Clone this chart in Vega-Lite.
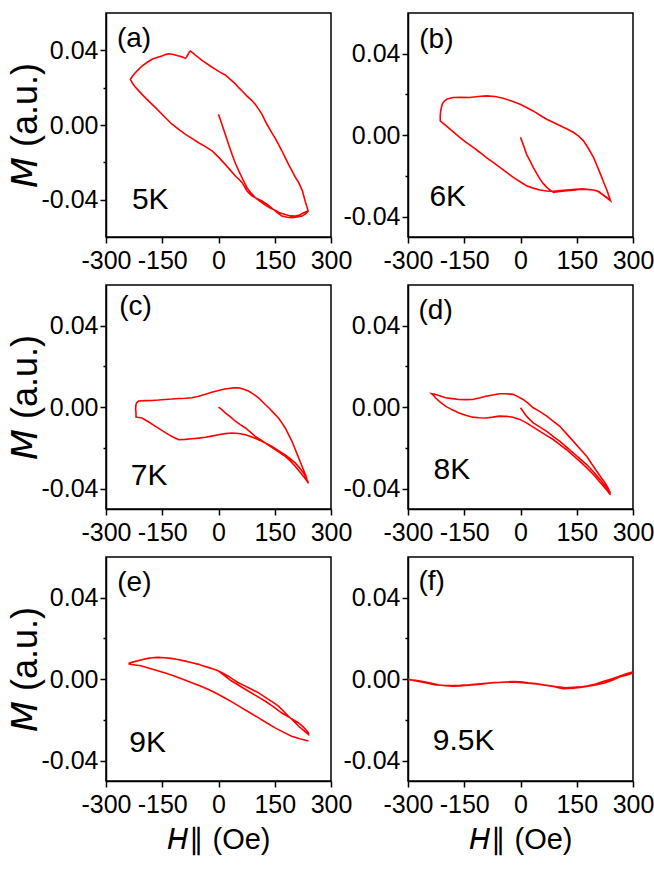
{
  "$schema": "https://vega.github.io/schema/vega-lite/v6.json",
  "padding": {"left": 6, "top": 12, "right": 5, "bottom": 5},
  "background": "white",
  "config": {
    "view": {"stroke": "black", "strokeWidth": 1.5},
    "font": "Liberation Sans",
    "axis": {
      "domainColor": "black", "domainWidth": 1.5,
      "tickColor": "black", "tickWidth": 1.5,
      "labelColor": "black", "labelFont": "Liberation Sans", "labelFontSize": 25,
      "titleFont": "Liberation Sans", "titleFontWeight": "normal", "titleColor": "black",
      "grid": false, "labelOverlap": false, "labelFlush": false, "labelBound": false
    },
    "axisX": {"labelPadding": 5, "titlePadding": 8, "titleFontSize": 29},
    "axisY": {"labelPadding": 2, "titlePadding": -3, "titleFontSize": 36},
    "text": {"font": "Liberation Sans", "color": "black"}
  },
  "datasets": {
    "labels": [
      {"p": "a", "tag": "(a)", "temp": "5K"},
      {"p": "b", "tag": "(b)", "temp": "6K"},
      {"p": "c", "tag": "(c)", "temp": "7K"},
      {"p": "d", "tag": "(d)", "temp": "8K"},
      {"p": "e", "tag": "(e)", "temp": "9K"},
      {"p": "f", "tag": "(f)", "temp": "9.5K"}
    ],
    "loops": [
      {"p":"a","H":0,"M":0.0057},{"p":"a","H":9,"M":0.0004},{"p":"a","H":18,"M":-0.005},{"p":"a","H":27,"M":-0.0105},{"p":"a","H":36,"M":-0.0157},{"p":"a","H":45,"M":-0.0205},{"p":"a","H":54,"M":-0.0246},{"p":"a","H":65,"M":-0.0292},{"p":"a","H":76,"M":-0.0336},{"p":"a","H":87,"M":-0.0365},{"p":"a","H":98,"M":-0.0389},{"p":"a","H":112,"M":-0.041},{"p":"a","H":125,"M":-0.0429},{"p":"a","H":138,"M":-0.0445},{"p":"a","H":151,"M":-0.0457},{"p":"a","H":165,"M":-0.0472},{"p":"a","H":178,"M":-0.0479},{"p":"a","H":192,"M":-0.0487},{"p":"a","H":205,"M":-0.0488},{"p":"a","H":216,"M":-0.0482},{"p":"a","H":227,"M":-0.047},{"p":"a","H":239,"M":-0.0461},
      {"p":"a","H":236,"M":-0.044},{"p":"a","H":231,"M":-0.0407},{"p":"a","H":226,"M":-0.037},{"p":"a","H":224,"M":-0.0354},{"p":"a","H":214,"M":-0.0309},{"p":"a","H":205,"M":-0.028},{"p":"a","H":196,"M":-0.0246},{"p":"a","H":187,"M":-0.0212},{"p":"a","H":178,"M":-0.0175},{"p":"a","H":169,"M":-0.0138},{"p":"a","H":160,"M":-0.0104},{"p":"a","H":151,"M":-0.007},{"p":"a","H":142,"M":-0.0041},{"p":"a","H":129,"M":0.0004},{"p":"a","H":116,"M":0.0057},{"p":"a","H":107,"M":0.0085},{"p":"a","H":98,"M":0.0111},{"p":"a","H":87,"M":0.0135},{"p":"a","H":76,"M":0.0155},{"p":"a","H":65,"M":0.0178},{"p":"a","H":54,"M":0.02},{"p":"a","H":45,"M":0.022},{"p":"a","H":36,"M":0.0236},{"p":"a","H":27,"M":0.0252},{"p":"a","H":18,"M":0.0268},{"p":"a","H":5,"M":0.0282},{"p":"a","H":-8,"M":0.0298},{"p":"a","H":-22,"M":0.0316},{"p":"a","H":-35,"M":0.0334},{"p":"a","H":-45,"M":0.0348},{"p":"a","H":-53,"M":0.0361},{"p":"a","H":-60,"M":0.0371},{"p":"a","H":-66,"M":0.0382},{"p":"a","H":-71,"M":0.039},{"p":"a","H":-75,"M":0.0396},{"p":"a","H":-78,"M":0.039},{"p":"a","H":-81,"M":0.0379},{"p":"a","H":-85,"M":0.0365},{"p":"a","H":-88,"M":0.0357},{"p":"a","H":-97,"M":0.0365},{"p":"a","H":-106,"M":0.037},{"p":"a","H":-120,"M":0.0378},{"p":"a","H":-133,"M":0.0382},{"p":"a","H":-142,"M":0.0377},{"p":"a","H":-151,"M":0.037},{"p":"a","H":-164,"M":0.0362},{"p":"a","H":-177,"M":0.0352},{"p":"a","H":-190,"M":0.0336},{"p":"a","H":-204,"M":0.0316},{"p":"a","H":-213,"M":0.0298},{"p":"a","H":-222,"M":0.028},{"p":"a","H":-229,"M":0.0262},{"p":"a","H":-235,"M":0.0245},
      {"p":"a","H":-229,"M":0.0222},{"p":"a","H":-222,"M":0.0204},{"p":"a","H":-213,"M":0.0184},{"p":"a","H":-204,"M":0.0164},{"p":"a","H":-186,"M":0.0128},{"p":"a","H":-168,"M":0.0093},{"p":"a","H":-146,"M":0.0048},{"p":"a","H":-124,"M":0.0004},{"p":"a","H":-106,"M":-0.0024},{"p":"a","H":-88,"M":-0.005},{"p":"a","H":-70,"M":-0.0073},{"p":"a","H":-53,"M":-0.0095},{"p":"a","H":-35,"M":-0.0116},{"p":"a","H":-17,"M":-0.0139},{"p":"a","H":0,"M":-0.0172},{"p":"a","H":18,"M":-0.0211},{"p":"a","H":32,"M":-0.0243},{"p":"a","H":45,"M":-0.0273},{"p":"a","H":55,"M":-0.0292},{"p":"a","H":63,"M":-0.0309},{"p":"a","H":70,"M":-0.0333},{"p":"a","H":76,"M":-0.0354},{"p":"a","H":89,"M":-0.038},{"p":"a","H":102,"M":-0.0393},{"p":"a","H":116,"M":-0.0407},{"p":"a","H":130,"M":-0.0425},{"p":"a","H":143,"M":-0.0446},{"p":"a","H":156,"M":-0.0468},{"p":"a","H":169,"M":-0.0488},{"p":"a","H":183,"M":-0.0494},{"p":"a","H":196,"M":-0.0496},{"p":"a","H":210,"M":-0.0492},{"p":"a","H":223,"M":-0.0488},{"p":"a","H":233,"M":-0.0475},{"p":"a","H":240,"M":-0.0461},

      {"p":"b","H":0,"M":-0.001},{"p":"b","H":8,"M":-0.005},{"p":"b","H":16,"M":-0.0093},{"p":"b","H":25,"M":-0.0125},{"p":"b","H":34,"M":-0.0158},{"p":"b","H":43,"M":-0.0188},{"p":"b","H":52,"M":-0.0216},{"p":"b","H":61,"M":-0.0238},{"p":"b","H":70,"M":-0.0256},{"p":"b","H":79,"M":-0.027},{"p":"b","H":88,"M":-0.0281},{"p":"b","H":100,"M":-0.0278},{"p":"b","H":112,"M":-0.0275},{"p":"b","H":124,"M":-0.0273},{"p":"b","H":142,"M":-0.027},{"p":"b","H":160,"M":-0.0265},{"p":"b","H":178,"M":-0.0266},{"p":"b","H":195,"M":-0.0269},{"p":"b","H":210,"M":-0.0278},{"p":"b","H":222,"M":-0.0297},{"p":"b","H":232,"M":-0.031},{"p":"b","H":240,"M":-0.0322},
      {"p":"b","H":236,"M":-0.03},{"p":"b","H":231,"M":-0.0273},{"p":"b","H":222,"M":-0.0232},{"p":"b","H":213,"M":-0.019},{"p":"b","H":204,"M":-0.015},{"p":"b","H":195,"M":-0.011},{"p":"b","H":182,"M":-0.0068},{"p":"b","H":168,"M":-0.0028},{"p":"b","H":155,"M":-0.0005},{"p":"b","H":142,"M":0.0013},{"p":"b","H":124,"M":0.003},{"p":"b","H":106,"M":0.0046},{"p":"b","H":88,"M":0.0062},{"p":"b","H":70,"M":0.0078},{"p":"b","H":52,"M":0.0098},{"p":"b","H":34,"M":0.0119},{"p":"b","H":16,"M":0.0136},{"p":"b","H":-1,"M":0.0152},{"p":"b","H":-24,"M":0.0168},{"p":"b","H":-46,"M":0.0181},{"p":"b","H":-68,"M":0.019},{"p":"b","H":-91,"M":0.0193},{"p":"b","H":-113,"M":0.019},{"p":"b","H":-136,"M":0.0185},{"p":"b","H":-158,"M":0.0186},{"p":"b","H":-180,"M":0.0185},{"p":"b","H":-195,"M":0.0178},{"p":"b","H":-203,"M":0.0168},{"p":"b","H":-208,"M":0.0155},{"p":"b","H":-211,"M":0.0136},{"p":"b","H":-213,"M":0.0115},{"p":"b","H":-214,"M":0.0095},{"p":"b","H":-214,"M":0.007},
      {"p":"b","H":-206,"M":0.0058},{"p":"b","H":-198,"M":0.0046},{"p":"b","H":-180,"M":0.0018},{"p":"b","H":-162,"M":-0.0011},{"p":"b","H":-145,"M":-0.0035},{"p":"b","H":-126,"M":-0.006},{"p":"b","H":-108,"M":-0.0085},{"p":"b","H":-91,"M":-0.011},{"p":"b","H":-73,"M":-0.0134},{"p":"b","H":-55,"M":-0.0158},{"p":"b","H":-37,"M":-0.0183},{"p":"b","H":-19,"M":-0.0207},{"p":"b","H":0,"M":-0.023},{"p":"b","H":16,"M":-0.0248},{"p":"b","H":34,"M":-0.026},{"p":"b","H":52,"M":-0.0269},{"p":"b","H":70,"M":-0.0274},{"p":"b","H":88,"M":-0.0276},{"p":"b","H":106,"M":-0.0272},{"p":"b","H":124,"M":-0.0269},{"p":"b","H":146,"M":-0.0266},{"p":"b","H":168,"M":-0.0265},{"p":"b","H":186,"M":-0.0267},{"p":"b","H":204,"M":-0.0273},{"p":"b","H":218,"M":-0.029},{"p":"b","H":230,"M":-0.0306},{"p":"b","H":240,"M":-0.0322},

      {"p":"c","H":0,"M":0},{"p":"c","H":9,"M":-0.0012},{"p":"c","H":18,"M":-0.0028},{"p":"c","H":32,"M":-0.0048},{"p":"c","H":45,"M":-0.0069},{"p":"c","H":58,"M":-0.0086},{"p":"c","H":72,"M":-0.0102},{"p":"c","H":85,"M":-0.0122},{"p":"c","H":98,"M":-0.0143},{"p":"c","H":112,"M":-0.016},{"p":"c","H":125,"M":-0.0176},{"p":"c","H":138,"M":-0.0192},{"p":"c","H":152,"M":-0.0209},{"p":"c","H":165,"M":-0.0225},{"p":"c","H":178,"M":-0.0242},{"p":"c","H":192,"M":-0.0265},{"p":"c","H":205,"M":-0.0291},{"p":"c","H":216,"M":-0.0316},{"p":"c","H":227,"M":-0.0341},{"p":"c","H":234,"M":-0.0358},{"p":"c","H":240,"M":-0.0374},
      {"p":"c","H":236,"M":-0.0355},{"p":"c","H":232,"M":-0.0332},{"p":"c","H":223,"M":-0.0291},{"p":"c","H":214,"M":-0.025},{"p":"c","H":205,"M":-0.0209},{"p":"c","H":196,"M":-0.0168},{"p":"c","H":187,"M":-0.0135},{"p":"c","H":178,"M":-0.0102},{"p":"c","H":169,"M":-0.0077},{"p":"c","H":160,"M":-0.0053},{"p":"c","H":147,"M":-0.0028},{"p":"c","H":134,"M":-0.0003},{"p":"c","H":120,"M":0.0022},{"p":"c","H":107,"M":0.0046},{"p":"c","H":94,"M":0.0063},{"p":"c","H":80,"M":0.0079},{"p":"c","H":67,"M":0.0088},{"p":"c","H":54,"M":0.0095},{"p":"c","H":40,"M":0.0095},{"p":"c","H":27,"M":0.0092},{"p":"c","H":13,"M":0.0088},{"p":"c","H":0,"M":0.0082},{"p":"c","H":-18,"M":0.0073},{"p":"c","H":-35,"M":0.0063},{"p":"c","H":-53,"M":0.0054},{"p":"c","H":-71,"M":0.0046},{"p":"c","H":-89,"M":0.0044},{"p":"c","H":-106,"M":0.0043},{"p":"c","H":-124,"M":0.004},{"p":"c","H":-142,"M":0.0038},{"p":"c","H":-160,"M":0.0035},{"p":"c","H":-177,"M":0.0033},{"p":"c","H":-195,"M":0.0032},{"p":"c","H":-213,"M":0.003},{"p":"c","H":-218,"M":0.0022},{"p":"c","H":-220,"M":0.0013},{"p":"c","H":-221,"M":-0.0008},{"p":"c","H":-220,"M":-0.0028},{"p":"c","H":-220,"M":-0.0049},
      {"p":"c","H":-212,"M":-0.0051},{"p":"c","H":-204,"M":-0.0053},{"p":"c","H":-186,"M":-0.0073},{"p":"c","H":-168,"M":-0.0094},{"p":"c","H":-150,"M":-0.0115},{"p":"c","H":-133,"M":-0.0135},{"p":"c","H":-120,"M":-0.0148},{"p":"c","H":-106,"M":-0.016},{"p":"c","H":-89,"M":-0.0158},{"p":"c","H":-71,"M":-0.0155},{"p":"c","H":-53,"M":-0.0152},{"p":"c","H":-35,"M":-0.0148},{"p":"c","H":-18,"M":-0.0142},{"p":"c","H":0,"M":-0.0135},{"p":"c","H":18,"M":-0.013},{"p":"c","H":36,"M":-0.0127},{"p":"c","H":54,"M":-0.0129},{"p":"c","H":72,"M":-0.0135},{"p":"c","H":89,"M":-0.0146},{"p":"c","H":107,"M":-0.016},{"p":"c","H":125,"M":-0.0176},{"p":"c","H":143,"M":-0.0193},{"p":"c","H":160,"M":-0.0213},{"p":"c","H":178,"M":-0.0234},{"p":"c","H":192,"M":-0.0254},{"p":"c","H":205,"M":-0.0275},{"p":"c","H":216,"M":-0.0298},{"p":"c","H":227,"M":-0.0324},{"p":"c","H":234,"M":-0.0348},{"p":"c","H":240,"M":-0.0374},

      {"p":"d","H":0,"M":-0.0003},{"p":"d","H":8,"M":-0.0024},{"p":"d","H":16,"M":-0.0044},{"p":"d","H":25,"M":-0.0061},{"p":"d","H":34,"M":-0.0077},{"p":"d","H":52,"M":-0.0098},{"p":"d","H":70,"M":-0.0119},{"p":"d","H":87,"M":-0.0143},{"p":"d","H":105,"M":-0.0168},{"p":"d","H":123,"M":-0.0196},{"p":"d","H":141,"M":-0.0225},{"p":"d","H":159,"M":-0.0254},{"p":"d","H":177,"M":-0.0283},{"p":"d","H":195,"M":-0.0318},{"p":"d","H":213,"M":-0.0357},{"p":"d","H":227,"M":-0.039},{"p":"d","H":240,"M":-0.0423},
      {"p":"d","H":233,"M":-0.0395},{"p":"d","H":226,"M":-0.0373},{"p":"d","H":215,"M":-0.0345},{"p":"d","H":204,"M":-0.0316},{"p":"d","H":190,"M":-0.0279},{"p":"d","H":177,"M":-0.0242},{"p":"d","H":159,"M":-0.0205},{"p":"d","H":141,"M":-0.0168},{"p":"d","H":123,"M":-0.0131},{"p":"d","H":105,"M":-0.0094},{"p":"d","H":87,"M":-0.0068},{"p":"d","H":70,"M":-0.0044},{"p":"d","H":52,"M":-0.0022},{"p":"d","H":34,"M":-0.0003},{"p":"d","H":20,"M":0.002},{"p":"d","H":7,"M":0.0038},{"p":"d","H":-7,"M":0.0052},{"p":"d","H":-20,"M":0.0063},{"p":"d","H":-38,"M":0.0066},{"p":"d","H":-56,"M":0.0066},{"p":"d","H":-74,"M":0.006},{"p":"d","H":-92,"M":0.0054},{"p":"d","H":-110,"M":0.0045},{"p":"d","H":-128,"M":0.0038},{"p":"d","H":-146,"M":0.0037},{"p":"d","H":-164,"M":0.0038},{"p":"d","H":-182,"M":0.0042},{"p":"d","H":-200,"M":0.0046},{"p":"d","H":-214,"M":0.0055},{"p":"d","H":-227,"M":0.0063},{"p":"d","H":-237,"M":0.0066},
      {"p":"d","H":-232,"M":0.0058},{"p":"d","H":-227,"M":0.0046},{"p":"d","H":-214,"M":0.0025},{"p":"d","H":-200,"M":0.0005},{"p":"d","H":-182,"M":-0.0013},{"p":"d","H":-164,"M":-0.0028},{"p":"d","H":-146,"M":-0.004},{"p":"d","H":-128,"M":-0.0049},{"p":"d","H":-110,"M":-0.0052},{"p":"d","H":-92,"M":-0.0053},{"p":"d","H":-74,"M":-0.0049},{"p":"d","H":-56,"M":-0.0044},{"p":"d","H":-38,"M":-0.0045},{"p":"d","H":-20,"M":-0.0049},{"p":"d","H":-2,"M":-0.006},{"p":"d","H":16,"M":-0.0077},{"p":"d","H":34,"M":-0.0098},{"p":"d","H":52,"M":-0.0119},{"p":"d","H":70,"M":-0.014},{"p":"d","H":88,"M":-0.016},{"p":"d","H":105,"M":-0.0184},{"p":"d","H":123,"M":-0.0209},{"p":"d","H":141,"M":-0.0238},{"p":"d","H":159,"M":-0.0267},{"p":"d","H":177,"M":-0.0298},{"p":"d","H":195,"M":-0.0332},{"p":"d","H":209,"M":-0.0362},{"p":"d","H":222,"M":-0.039},{"p":"d","H":232,"M":-0.0412},{"p":"d","H":240,"M":-0.0431},

      {"p":"e","H":0,"M":0.004},{"p":"e","H":17,"M":0.0016},{"p":"e","H":34,"M":-0.0008},{"p":"e","H":56,"M":-0.0032},{"p":"e","H":79,"M":-0.0058},{"p":"e","H":101,"M":-0.0082},{"p":"e","H":124,"M":-0.0107},{"p":"e","H":146,"M":-0.0135},{"p":"e","H":168,"M":-0.0165},{"p":"e","H":191,"M":-0.019},{"p":"e","H":213,"M":-0.0214},{"p":"e","H":228,"M":-0.0238},{"p":"e","H":240,"M":-0.0263},
      {"p":"e","H":240,"M":-0.0272},{"p":"e","H":226,"M":-0.025},{"p":"e","H":213,"M":-0.023},{"p":"e","H":200,"M":-0.0205},{"p":"e","H":186,"M":-0.0181},{"p":"e","H":173,"M":-0.0156},{"p":"e","H":160,"M":-0.0132},{"p":"e","H":146,"M":-0.0114},{"p":"e","H":133,"M":-0.0099},{"p":"e","H":120,"M":-0.0083},{"p":"e","H":106,"M":-0.0066},{"p":"e","H":92,"M":-0.0053},{"p":"e","H":79,"M":-0.0041},{"p":"e","H":65,"M":-0.0028},{"p":"e","H":52,"M":-0.0016},{"p":"e","H":38,"M":0},{"p":"e","H":25,"M":0.0016},{"p":"e","H":12,"M":0.0029},{"p":"e","H":-1,"M":0.0041},{"p":"e","H":-14,"M":0.005},{"p":"e","H":-28,"M":0.0058},{"p":"e","H":-42,"M":0.0066},{"p":"e","H":-55,"M":0.0074},{"p":"e","H":-73,"M":0.0082},{"p":"e","H":-91,"M":0.009},{"p":"e","H":-109,"M":0.0097},{"p":"e","H":-126,"M":0.0102},{"p":"e","H":-144,"M":0.0105},{"p":"e","H":-162,"M":0.0107},{"p":"e","H":-176,"M":0.0105},{"p":"e","H":-189,"M":0.0102},{"p":"e","H":-202,"M":0.0097},{"p":"e","H":-216,"M":0.009},{"p":"e","H":-227,"M":0.0085},{"p":"e","H":-238,"M":0.0079},
      {"p":"e","H":-238,"M":0.0074},{"p":"e","H":-222,"M":0.007},{"p":"e","H":-207,"M":0.0066},{"p":"e","H":-185,"M":0.0054},{"p":"e","H":-162,"M":0.0041},{"p":"e","H":-140,"M":0.0029},{"p":"e","H":-118,"M":0.0016},{"p":"e","H":-95,"M":0},{"p":"e","H":-73,"M":-0.0016},{"p":"e","H":-50,"M":-0.0032},{"p":"e","H":-28,"M":-0.0049},{"p":"e","H":-6,"M":-0.0069},{"p":"e","H":16,"M":-0.0091},{"p":"e","H":39,"M":-0.0115},{"p":"e","H":61,"M":-0.014},{"p":"e","H":84,"M":-0.0165},{"p":"e","H":106,"M":-0.0189},{"p":"e","H":128,"M":-0.0214},{"p":"e","H":151,"M":-0.0239},{"p":"e","H":173,"M":-0.026},{"p":"e","H":195,"M":-0.028},{"p":"e","H":217,"M":-0.0293},{"p":"e","H":240,"M":-0.0304},

      {"p":"f","H":-300,"M":0},{"p":"f","H":-285,"M":-0.0006},{"p":"f","H":-271,"M":-0.0011},{"p":"f","H":-248,"M":-0.002},{"p":"f","H":-226,"M":-0.0028},{"p":"f","H":-204,"M":-0.003},{"p":"f","H":-182,"M":-0.0031},{"p":"f","H":-160,"M":-0.003},{"p":"f","H":-137,"M":-0.0028},{"p":"f","H":-115,"M":-0.0024},{"p":"f","H":-92,"M":-0.002},{"p":"f","H":-70,"M":-0.0017},{"p":"f","H":-47,"M":-0.0015},{"p":"f","H":-25,"M":-0.0014},{"p":"f","H":-2,"M":-0.0016},{"p":"f","H":20,"M":-0.002},{"p":"f","H":43,"M":-0.0024},{"p":"f","H":65,"M":-0.003},{"p":"f","H":88,"M":-0.0036},{"p":"f","H":101,"M":-0.0042},{"p":"f","H":114,"M":-0.0047},{"p":"f","H":127,"M":-0.0046},{"p":"f","H":141,"M":-0.0044},{"p":"f","H":159,"M":-0.0041},{"p":"f","H":177,"M":-0.0036},{"p":"f","H":200,"M":-0.0029},{"p":"f","H":222,"M":-0.002},{"p":"f","H":245,"M":-0.0005},{"p":"f","H":267,"M":0.0013},{"p":"f","H":283,"M":0.002},{"p":"f","H":298,"M":0.0029},
      {"p":"f","H":298,"M":0.0035},{"p":"f","H":280,"M":0.0025},{"p":"f","H":260,"M":0.0012},{"p":"f","H":240,"M":0},{"p":"f","H":220,"M":-0.0012},{"p":"f","H":200,"M":-0.0024},{"p":"f","H":180,"M":-0.0032},{"p":"f","H":160,"M":-0.0038},{"p":"f","H":140,"M":-0.004},{"p":"f","H":120,"M":-0.0042},{"p":"f","H":100,"M":-0.0038},{"p":"f","H":80,"M":-0.0032},{"p":"f","H":60,"M":-0.0027},{"p":"f","H":40,"M":-0.0022},{"p":"f","H":20,"M":-0.0018},{"p":"f","H":0,"M":-0.0013},{"p":"f","H":-20,"M":-0.0012},{"p":"f","H":-40,"M":-0.0014},{"p":"f","H":-60,"M":-0.0016},{"p":"f","H":-80,"M":-0.0019},{"p":"f","H":-100,"M":-0.0023},{"p":"f","H":-120,"M":-0.0027},{"p":"f","H":-140,"M":-0.003},{"p":"f","H":-160,"M":-0.0033},{"p":"f","H":-180,"M":-0.0034},{"p":"f","H":-200,"M":-0.0032},{"p":"f","H":-220,"M":-0.0027},{"p":"f","H":-240,"M":-0.0019},{"p":"f","H":-260,"M":-0.0012},{"p":"f","H":-280,"M":-0.0006},{"p":"f","H":-300,"M":-0.0002}
    ]
  },
  "columns": 2,
  "spacing": {"row": 48, "column": 77},
  "bounds": "flush",
  "concat": [
    {
      "width": 225, "height": 224,
      "layer": [
        {
          "data": {"name": "loops"}, "transform": [{"filter": "datum.p === 'a'"}],
          "mark": {"type": "line", "color": "#ff0000", "strokeWidth": 1.6, "clip": true},
          "encoding": {
            "x": {"field": "H", "type": "quantitative", "scale": {"domain": [-300, 300], "nice": false, "zero": false},
              "axis": {"title": null, "values": [-300, -225, -150, -75, 0, 75, 150, 225, 300],
                "labelExpr": "datum.value % 150 === 0 ? (datum.value < 0 ? '-' + format(-datum.value, 'd') : format(datum.value, 'd')) : ''",
                "tickSize": {"condition": {"test": "datum.value % 150 === 0", "value": 6}, "value": 3}}},
            "y": {"field": "M", "type": "quantitative", "scale": {"domain": [-0.06, 0.06], "nice": false, "zero": false},
              "axis": {"title": "𝘔 (a.u.)", "values": [-0.04, -0.02, 0, 0.02, 0.04],
                "labelExpr": "abs(datum.value) < 0.001 || abs(datum.value) > 0.03 ? (datum.value < -0.001 ? '-' + format(-datum.value, '.2f') : format(abs(datum.value), '.2f')) : ''",
                "tickSize": {"condition": {"test": "abs(datum.value) < 0.001 || abs(datum.value) > 0.03", "value": 6}, "value": 3}}},
            "order": {"value": null}
          }
        },
        {
          "data": {"name": "labels"}, "transform": [{"filter": "datum.p === 'a'"}],
          "mark": {"type": "text", "align": "left", "baseline": "middle", "fontSize": 28},
          "encoding": {"x": {"datum": -271, "type": "quantitative"}, "y": {"datum": 0.046, "type": "quantitative"}, "text": {"field": "tag"}}
        },
        {
          "data": {"name": "labels"}, "transform": [{"filter": "datum.p === 'a'"}],
          "mark": {"type": "text", "align": "left", "baseline": "middle", "fontSize": 30},
          "encoding": {"x": {"datum": -231, "type": "quantitative"}, "y": {"datum": -0.0404, "type": "quantitative"}, "text": {"field": "temp"}}
        }
      ]
    },
    {
      "width": 225, "height": 224,
      "layer": [
        {
          "data": {"name": "loops"}, "transform": [{"filter": "datum.p === 'b'"}],
          "mark": {"type": "line", "color": "#ff0000", "strokeWidth": 1.6, "clip": true},
          "encoding": {
            "x": {"field": "H", "type": "quantitative", "scale": {"domain": [-300, 300], "nice": false, "zero": false},
              "axis": {"title": null, "values": [-300, -225, -150, -75, 0, 75, 150, 225, 300],
                "labelExpr": "datum.value % 150 === 0 ? (datum.value < 0 ? '-' + format(-datum.value, 'd') : format(datum.value, 'd')) : ''",
                "tickSize": {"condition": {"test": "datum.value % 150 === 0", "value": 6}, "value": 3}}},
            "y": {"field": "M", "type": "quantitative", "scale": {"domain": [-0.05, 0.06], "nice": false, "zero": false},
              "axis": {"title": null, "values": [-0.04, -0.02, 0, 0.02, 0.04],
                "labelExpr": "abs(datum.value) < 0.001 || abs(datum.value) > 0.03 ? (datum.value < -0.001 ? '-' + format(-datum.value, '.2f') : format(abs(datum.value), '.2f')) : ''",
                "tickSize": {"condition": {"test": "abs(datum.value) < 0.001 || abs(datum.value) > 0.03", "value": 6}, "value": 3}}},
            "order": {"value": null}
          }
        },
        {
          "data": {"name": "labels"}, "transform": [{"filter": "datum.p === 'b'"}],
          "mark": {"type": "text", "align": "left", "baseline": "middle", "fontSize": 28},
          "encoding": {"x": {"datum": -270, "type": "quantitative"}, "y": {"datum": 0.0467, "type": "quantitative"}, "text": {"field": "tag"}}
        },
        {
          "data": {"name": "labels"}, "transform": [{"filter": "datum.p === 'b'"}],
          "mark": {"type": "text", "align": "left", "baseline": "middle", "fontSize": 30},
          "encoding": {"x": {"datum": -243, "type": "quantitative"}, "y": {"datum": -0.0306, "type": "quantitative"}, "text": {"field": "temp"}}
        }
      ]
    },
    {
      "width": 225, "height": 224,
      "layer": [
        {
          "data": {"name": "loops"}, "transform": [{"filter": "datum.p === 'c'"}],
          "mark": {"type": "line", "color": "#ff0000", "strokeWidth": 1.6, "clip": true},
          "encoding": {
            "x": {"field": "H", "type": "quantitative", "scale": {"domain": [-300, 300], "nice": false, "zero": false},
              "axis": {"title": null, "values": [-300, -225, -150, -75, 0, 75, 150, 225, 300],
                "labelExpr": "datum.value % 150 === 0 ? (datum.value < 0 ? '-' + format(-datum.value, 'd') : format(datum.value, 'd')) : ''",
                "tickSize": {"condition": {"test": "datum.value % 150 === 0", "value": 6}, "value": 3}}},
            "y": {"field": "M", "type": "quantitative", "scale": {"domain": [-0.05, 0.06], "nice": false, "zero": false},
              "axis": {"title": "𝘔 (a.u.)", "values": [-0.04, -0.02, 0, 0.02, 0.04],
                "labelExpr": "abs(datum.value) < 0.001 || abs(datum.value) > 0.03 ? (datum.value < -0.001 ? '-' + format(-datum.value, '.2f') : format(abs(datum.value), '.2f')) : ''",
                "tickSize": {"condition": {"test": "abs(datum.value) < 0.001 || abs(datum.value) > 0.03", "value": 6}, "value": 3}}},
            "order": {"value": null}
          }
        },
        {
          "data": {"name": "labels"}, "transform": [{"filter": "datum.p === 'c'"}],
          "mark": {"type": "text", "align": "left", "baseline": "middle", "fontSize": 28},
          "encoding": {"x": {"datum": -265, "type": "quantitative"}, "y": {"datum": 0.049, "type": "quantitative"}, "text": {"field": "tag"}}
        },
        {
          "data": {"name": "labels"}, "transform": [{"filter": "datum.p === 'c'"}],
          "mark": {"type": "text", "align": "left", "baseline": "middle", "fontSize": 30},
          "encoding": {"x": {"datum": -234, "type": "quantitative"}, "y": {"datum": -0.0336, "type": "quantitative"}, "text": {"field": "temp"}}
        }
      ]
    },
    {
      "width": 225, "height": 224,
      "layer": [
        {
          "data": {"name": "loops"}, "transform": [{"filter": "datum.p === 'd'"}],
          "mark": {"type": "line", "color": "#ff0000", "strokeWidth": 1.6, "clip": true},
          "encoding": {
            "x": {"field": "H", "type": "quantitative", "scale": {"domain": [-300, 300], "nice": false, "zero": false},
              "axis": {"title": null, "values": [-300, -225, -150, -75, 0, 75, 150, 225, 300],
                "labelExpr": "datum.value % 150 === 0 ? (datum.value < 0 ? '-' + format(-datum.value, 'd') : format(datum.value, 'd')) : ''",
                "tickSize": {"condition": {"test": "datum.value % 150 === 0", "value": 6}, "value": 3}}},
            "y": {"field": "M", "type": "quantitative", "scale": {"domain": [-0.05, 0.06], "nice": false, "zero": false},
              "axis": {"title": null, "values": [-0.04, -0.02, 0, 0.02, 0.04],
                "labelExpr": "abs(datum.value) < 0.001 || abs(datum.value) > 0.03 ? (datum.value < -0.001 ? '-' + format(-datum.value, '.2f') : format(abs(datum.value), '.2f')) : ''",
                "tickSize": {"condition": {"test": "abs(datum.value) < 0.001 || abs(datum.value) > 0.03", "value": 6}, "value": 3}}},
            "order": {"value": null}
          }
        },
        {
          "data": {"name": "labels"}, "transform": [{"filter": "datum.p === 'd'"}],
          "mark": {"type": "text", "align": "left", "baseline": "middle", "fontSize": 28},
          "encoding": {"x": {"datum": -272, "type": "quantitative"}, "y": {"datum": 0.0474, "type": "quantitative"}, "text": {"field": "tag"}}
        },
        {
          "data": {"name": "labels"}, "transform": [{"filter": "datum.p === 'd'"}],
          "mark": {"type": "text", "align": "left", "baseline": "middle", "fontSize": 30},
          "encoding": {"x": {"datum": -232, "type": "quantitative"}, "y": {"datum": -0.0308, "type": "quantitative"}, "text": {"field": "temp"}}
        }
      ]
    },
    {
      "width": 225, "height": 224,
      "layer": [
        {
          "data": {"name": "loops"}, "transform": [{"filter": "datum.p === 'e'"}],
          "mark": {"type": "line", "color": "#ff0000", "strokeWidth": 1.6, "clip": true},
          "encoding": {
            "x": {"field": "H", "type": "quantitative", "scale": {"domain": [-300, 300], "nice": false, "zero": false},
              "axis": {"title": "𝘏∥ (Oe)", "values": [-300, -225, -150, -75, 0, 75, 150, 225, 300],
                "labelExpr": "datum.value % 150 === 0 ? (datum.value < 0 ? '-' + format(-datum.value, 'd') : format(datum.value, 'd')) : ''",
                "tickSize": {"condition": {"test": "datum.value % 150 === 0", "value": 6}, "value": 3}}},
            "y": {"field": "M", "type": "quantitative", "scale": {"domain": [-0.05, 0.06], "nice": false, "zero": false},
              "axis": {"title": "𝘔 (a.u.)", "values": [-0.04, -0.02, 0, 0.02, 0.04],
                "labelExpr": "abs(datum.value) < 0.001 || abs(datum.value) > 0.03 ? (datum.value < -0.001 ? '-' + format(-datum.value, '.2f') : format(abs(datum.value), '.2f')) : ''",
                "tickSize": {"condition": {"test": "abs(datum.value) < 0.001 || abs(datum.value) > 0.03", "value": 6}, "value": 3}}},
            "order": {"value": null}
          }
        },
        {
          "data": {"name": "labels"}, "transform": [{"filter": "datum.p === 'e'"}],
          "mark": {"type": "text", "align": "left", "baseline": "middle", "fontSize": 28},
          "encoding": {"x": {"datum": -270, "type": "quantitative"}, "y": {"datum": 0.0472, "type": "quantitative"}, "text": {"field": "tag"}}
        },
        {
          "data": {"name": "labels"}, "transform": [{"filter": "datum.p === 'e'"}],
          "mark": {"type": "text", "align": "left", "baseline": "middle", "fontSize": 30},
          "encoding": {"x": {"datum": -238, "type": "quantitative"}, "y": {"datum": -0.0311, "type": "quantitative"}, "text": {"field": "temp"}}
        }
      ]
    },
    {
      "width": 225, "height": 224,
      "layer": [
        {
          "data": {"name": "loops"}, "transform": [{"filter": "datum.p === 'f'"}],
          "mark": {"type": "line", "color": "#ff0000", "strokeWidth": 1.6, "clip": true},
          "encoding": {
            "x": {"field": "H", "type": "quantitative", "scale": {"domain": [-300, 300], "nice": false, "zero": false},
              "axis": {"title": "𝘏∥ (Oe)", "values": [-300, -225, -150, -75, 0, 75, 150, 225, 300],
                "labelExpr": "datum.value % 150 === 0 ? (datum.value < 0 ? '-' + format(-datum.value, 'd') : format(datum.value, 'd')) : ''",
                "tickSize": {"condition": {"test": "datum.value % 150 === 0", "value": 6}, "value": 3}}},
            "y": {"field": "M", "type": "quantitative", "scale": {"domain": [-0.05, 0.06], "nice": false, "zero": false},
              "axis": {"title": null, "values": [-0.04, -0.02, 0, 0.02, 0.04],
                "labelExpr": "abs(datum.value) < 0.001 || abs(datum.value) > 0.03 ? (datum.value < -0.001 ? '-' + format(-datum.value, '.2f') : format(abs(datum.value), '.2f')) : ''",
                "tickSize": {"condition": {"test": "abs(datum.value) < 0.001 || abs(datum.value) > 0.03", "value": 6}, "value": 3}}},
            "order": {"value": null}
          }
        },
        {
          "data": {"name": "labels"}, "transform": [{"filter": "datum.p === 'f'"}],
          "mark": {"type": "text", "align": "left", "baseline": "middle", "fontSize": 28},
          "encoding": {"x": {"datum": -272, "type": "quantitative"}, "y": {"datum": 0.0475, "type": "quantitative"}, "text": {"field": "tag"}}
        },
        {
          "data": {"name": "labels"}, "transform": [{"filter": "datum.p === 'f'"}],
          "mark": {"type": "text", "align": "left", "baseline": "middle", "fontSize": 30},
          "encoding": {"x": {"datum": -234, "type": "quantitative"}, "y": {"datum": -0.0305, "type": "quantitative"}, "text": {"field": "temp"}}
        }
      ]
    }
  ]
}
